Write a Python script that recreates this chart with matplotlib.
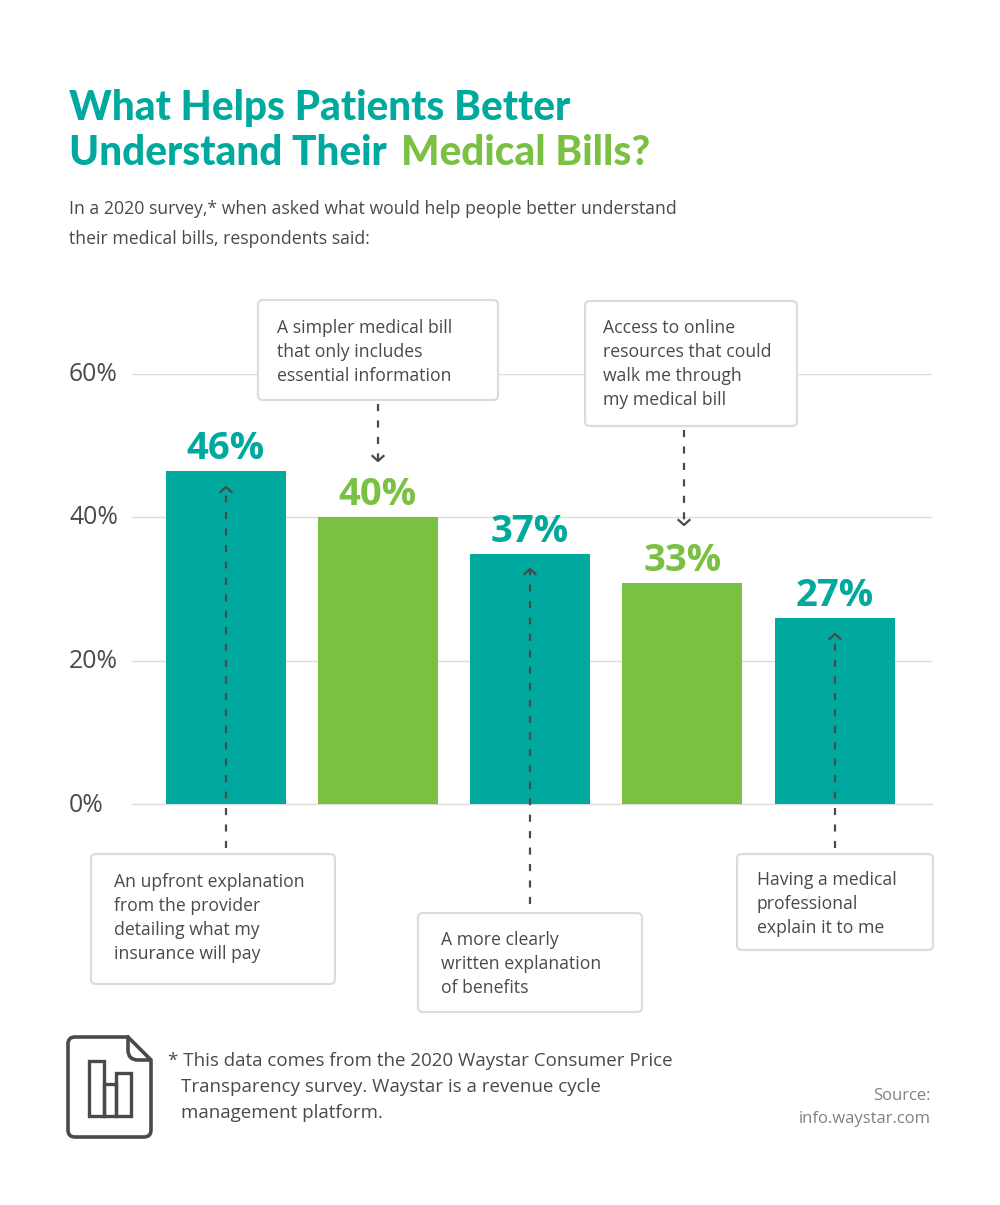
import matplotlib
matplotlib.use("Agg")
import matplotlib.pyplot as plt
from matplotlib.patches import FancyBboxPatch, PathPatch, Rectangle
from matplotlib.path import Path

W, H = 1000, 1205
TEAL = "#00a99d"
GREEN = "#7ac143"
DARK = "#4a4a4d"
GRID = "#dcdcdc"
BORDER = "#dcdcdc"

categories = ["An upfront explanation", "A simpler medical bill", "A more clearly written",
              "Access to online resources", "Having a medical professional"]
bar_values = [46.4, 40.0, 34.8, 30.8, 25.9]
value_labels = ["46%", "40%", "37%", "33%", "27%"]
bar_colors = [TEAL, GREEN, TEAL, GREEN, TEAL]
y_ticks = [0, 20, 40, 60]
y_tick_labels = ["0%", "20%", "40%", "60%"]

fig = plt.figure(figsize=(W / 100, H / 100), dpi=100, facecolor="white")
plt.rcParams["font.family"] = ["Open Sans", "DejaVu Sans"]

# chart axes: x 132-932 px, y0=804 px, y60=373.5 px
ax = fig.add_axes([132 / W, 1 - 804 / H, 800 / W, (804 - 373.5) / H])
x_left, x_right = (132 - 225.5) / 152.3, (932 - 225.5) / 152.3
ax.set_xlim(x_left, x_right)
ax.set_ylim(0, 60)
ax.patch.set_alpha(0)
ax.bar(range(5), bar_values, width=120 / 152.3, color=bar_colors, zorder=3)
for s in ["top", "right", "left"]:
    ax.spines[s].set_visible(False)
ax.spines["bottom"].set_color(GRID)
ax.spines["bottom"].set_linewidth(1)
ax.set_xticks([])
ax.set_yticks(y_ticks)
ax.set_yticklabels([])
ax.tick_params(left=False)
ax.grid(axis="y", color=GRID, linewidth=1, zorder=0)
ax.set_axisbelow(True)
for i, (v, lab, c) in enumerate(zip(bar_values, value_labels, bar_colors)):
    ax.annotate(lab, (i, v), xytext=(0, 3), textcoords="offset pixels", ha="center", va="bottom",
                color=c, fontsize=27.5, fontweight="bold", zorder=5)
for t, lab in zip(y_ticks, y_tick_labels):
    ax.annotate(lab, (0, t), xycoords=("axes fraction", "data"), xytext=(-63, -1), textcoords="offset pixels",
                ha="left", va="center", fontsize=17.8, color=DARK)

# overlay in pixel coordinates
ov = fig.add_axes([0, 0, 1, 1], zorder=10)
ov.set_xlim(0, W)
ov.set_ylim(H, 0)
ov.axis("off")
ov.patch.set_alpha(0)


def txt(x, y, s, **kw):
    kw.setdefault("color", DARK)
    kw.setdefault("va", "baseline")
    return ov.text(x, y, s, **kw)


# title
TB = dict(fontsize=29.2, fontweight=900, family=["Lato", "DejaVu Sans"])
txt(69, 120, "What Helps Patients Better", color=TEAL, **TB)
txt(69, 165, "Understand Their", color=TEAL, **TB)
txt(401, 165, "Medical Bills?", color=GREEN, **TB)

BODY = 12.7
txt(69, 214, "In a 2020 survey,* when asked what would help people better understand", fontsize=BODY)
txt(69, 244, "their medical bills, respondents said:", fontsize=BODY)


def box(x0, y0, x1, y1, lines, tx, ty0, dy=24):
    ov.add_patch(FancyBboxPatch((x0 + 4, y0 + 4), x1 - x0 - 8, y1 - y0 - 8,
                                boxstyle="round,pad=4,rounding_size=5", fc="white", ec=BORDER, lw=1.6, zorder=6))
    for i, l in enumerate(lines):
        ov.text(tx, ty0 + i * dy, l, fontsize=BODY, color=DARK, zorder=7)


box(258, 300, 498, 400, ["A simpler medical bill", "that only includes", "essential information"], 277, 333)
box(585, 301, 797, 426, ["Access to online", "resources that could", "walk me through", "my medical bill"], 603, 333)
box(91, 854, 335, 984, ["An upfront explanation", "from the provider", "detailing what my", "insurance will pay"], 114, 887)
box(418, 913, 642, 1012, ["A more clearly", "written explanation", "of benefits"], 441, 945)
box(737, 854, 933, 950, ["Having a medical", "professional", "explain it to me"], 757, 885)


def arrow(x, y0, y1):
    """dashed connector from y0 to tip y1"""
    ov.plot([x, x], [y0, y1], color=DARK, lw=1.6, dashes=(3.2, 4.2), zorder=8)
    d = 5 if y1 > y0 else -5
    ov.plot([x - 5.5, x, x + 5.5], [y1 - d, y1, y1 - d], color=DARK, lw=1.6, zorder=8)


arrow(378, 404, 461)
arrow(684, 430, 525)
arrow(226, 848, 487)
arrow(530, 904, 569)
arrow(835, 848, 634)

# footer icon
outline = Path([(128, 1037), (75, 1037), (68, 1037), (68, 1044), (68, 1130), (68, 1137), (75, 1137),
                (144, 1137), (151, 1137), (151, 1130), (151, 1060), (128, 1037)],
               [Path.MOVETO, Path.LINETO, Path.CURVE3, Path.CURVE3, Path.LINETO, Path.CURVE3, Path.CURVE3,
                Path.LINETO, Path.CURVE3, Path.CURVE3, Path.LINETO, Path.LINETO])
ov.add_patch(PathPatch(outline, fc="none", ec=DARK, lw=2.6, capstyle="round", joinstyle="round"))
fold = Path([(128, 1039), (128, 1050), (128, 1060), (138, 1060), (150, 1060)],
            [Path.MOVETO, Path.LINETO, Path.CURVE3, Path.CURVE3, Path.LINETO])
ov.add_patch(PathPatch(fold, fc="none", ec=DARK, lw=2.6))
ov.add_patch(Rectangle((89, 1061), 15, 55, fc="none", ec=DARK, lw=2.4))
ov.add_patch(Rectangle((104, 1084), 12, 32, fc="none", ec=DARK, lw=2.4))
ov.add_patch(Rectangle((116, 1073), 15, 43, fc="none", ec=DARK, lw=2.4))

FN = dict(fontsize=13.5)
txt(168, 1066, "* This data comes from the 2020 Waystar Consumer Price", **FN)
txt(181, 1092, "Transparency survey. Waystar is a revenue cycle", **FN)
txt(181, 1118, "management platform.", **FN)
txt(931, 1100, "Source:", ha="right", color="#808285", fontsize=12)
txt(931, 1123, "info.waystar.com", ha="right", color="#808285", fontsize=12)

fig.savefig("out.png", dpi=100, facecolor="white")
